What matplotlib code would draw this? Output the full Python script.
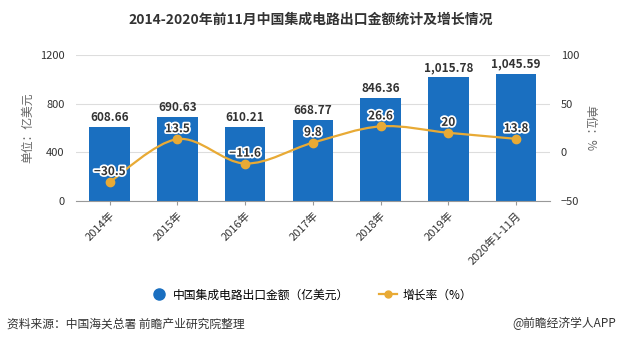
import numpy as np
import matplotlib.pyplot as plt
from matplotlib.path import Path
from matplotlib.patches import PathPatch
import matplotlib.patheffects as pe

plt.rcParams['font.family'] = ['Noto Sans CJK SC', 'DejaVu Sans']

# data
years = ['2014年', '2015年', '2016年', '2017年', '2018年', '2019年', '2020年1-11月']
export_amt = [608.66, 690.63, 610.21, 668.77, 846.36, 1015.78, 1045.59]
growth = [-30.5, 13.5, -11.6, 9.8, 26.6, 20, 13.8]

bar_color = '#1a6fc0'
line_color = '#e8aa35'

fig = plt.figure(figsize=(6.22, 3.5), dpi=100)
ax = fig.add_axes([0.122, 0.426, 0.762, 0.417])
ax2 = ax.twinx()

x = np.arange(len(years))
ax.bar(x, export_amt, width=0.6, color=bar_color, zorder=2)
ax.set_ylim(0, 1200)
ax.set_yticks([0, 400, 800, 1200])
ax.set_xlim(-0.5, len(years) - 0.5)
ax.grid(axis='y', color='#dddddd', linewidth=0.8, zorder=0)
ax.set_axisbelow(True)
for s in ['top', 'left', 'right']:
    ax.spines[s].set_visible(False)
    ax2.spines[s].set_visible(False)
ax2.spines['bottom'].set_visible(False)
ax.spines['bottom'].set_color('#999999')
ax.tick_params(axis='y', length=0, labelsize=8, colors='#333333', pad=8)
ax.tick_params(axis='x', length=3, color='#999999', labelsize=8, colors='#333333')
ax.set_xticks(x)
ax.set_xticklabels(years, rotation=45, ha='right', rotation_mode='anchor')
for i, v in enumerate(export_amt):
    ax.text(i, v + 25, f'{v:,.2f}', ha='center', va='bottom', fontsize=8.5,
            fontweight='bold', color='#333333')
ax.set_ylabel('单位：亿美元', fontsize=8.5, color='#666666', labelpad=4)

# growth line (smooth curve through the points)
ax2.set_ylim(-50, 100)
ax2.set_yticks([-50, 0, 50, 100])
ax2.tick_params(axis='y', length=0, labelsize=8, colors='#333333', pad=8)
pts = np.column_stack([x, growth]).astype(float)
verts = [tuple(pts[0])]
codes = [Path.MOVETO]
for i in range(len(pts) - 1):
    p0 = pts[i - 1] if i > 0 else pts[i]
    p1, p2 = pts[i], pts[i + 1]
    p3 = pts[i + 2] if i + 2 < len(pts) else pts[i + 1]
    c1 = p1 + (p2 - p0) / 6
    c2 = p2 - (p3 - p1) / 6
    verts += [tuple(c1), tuple(c2), tuple(p2)]
    codes += [Path.CURVE4] * 3
ax2.add_patch(PathPatch(Path(verts, codes), fill=False, edgecolor=line_color,
                        linewidth=1.6, zorder=3))
ax2.plot(x, growth, 'o', color=line_color, markersize=6, zorder=4)
for i, v in enumerate(growth):
    t = ax2.text(i, v + 4, f'{v:g}'.replace('-', '−'), ha='center', va='bottom',
                 fontsize=8.5, fontweight='bold', color='#333333', zorder=5)
    t.set_path_effects([pe.withStroke(linewidth=2.5, foreground='white')])
ax2.set_ylabel('单位：%', fontsize=8.5, color='#666666', rotation=-90,
               labelpad=12)

# legend
from matplotlib.lines import Line2D
handles = [Line2D([], [], marker='o', linestyle='none', color=bar_color, markersize=8),
           Line2D([], [], marker='o', color=line_color, markersize=5, linewidth=1.6)]
fig.legend(handles, ['中国集成电路出口金额（亿美元）', '增长率（%）'],
           loc='center', bbox_to_anchor=(0.5, 0.157), ncol=2, frameon=False,
           fontsize=8.5, handlelength=1.5, columnspacing=2.5, handletextpad=0.5)

fig.text(0.5, 0.945, '2014-2020年前11月中国集成电路出口金额统计及增长情况',
         ha='center', va='center', fontsize=10, fontweight='bold', color='#333333')
fig.text(0.012, 0.075, '资料来源：中国海关总署 前瞻产业研究院整理',
         ha='left', va='center', fontsize=8.5, color='#333333')
fig.text(0.99, 0.075, '@前瞻经济学人APP', ha='right', va='center',
         fontsize=8.5, color='#333333')

fig.savefig('out.png', dpi=100)
